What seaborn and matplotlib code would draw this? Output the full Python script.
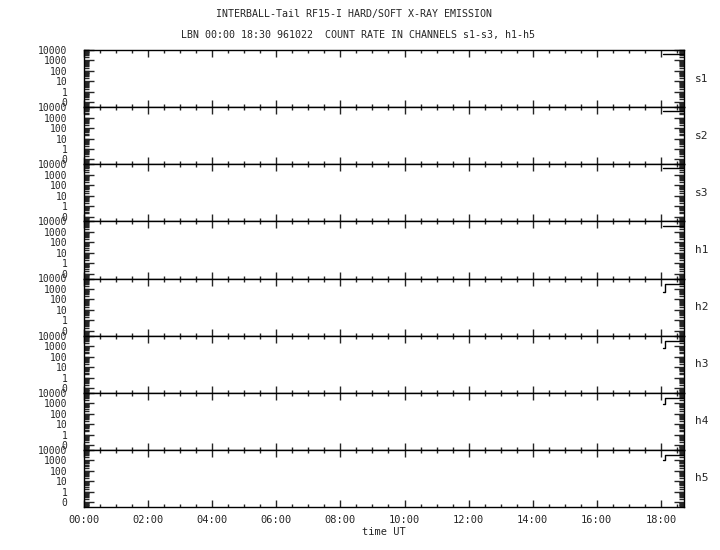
import numpy as np
import matplotlib
matplotlib.use("Agg")
import matplotlib.pyplot as plt
import matplotlib.ticker as mticker
import seaborn as sns

# channel names, top to bottom
channels = ["s1", "s2", "s3", "h1", "h2", "h3", "h4", "h5"]

# times in hours UT (step data only near the end of the interval)
times = [18.06, 18.12, 18.72]

# count rates per channel
s1 = [4000, 4000, 4000]
s2 = [4000, 4000, 4000]
s3 = [4000, 4000, 4000]
h1 = [4000, 4000, 4000]
h2 = [500, 2800, 2800]
h3 = [600, 2800, 2800]
h4 = [800, 3000, 3000]
h5 = [1000, 3000, 3000]
series = [s1, s2, s3, h1, h2, h3, h4, h5]

ytick_vals = [0.1, 1, 10, 100, 1000, 10000]
ytick_labels = ["0", "1", "10", "100", "1000", "10000"]
xtick_vals = [0, 2, 4, 6, 8, 10, 12, 14, 16, 18]
xtick_labels = ["00:00", "02:00", "04:00", "06:00", "08:00", "10:00",
                "12:00", "14:00", "16:00", "18:00"]

title1 = "INTERBALL-Tail RF15-I HARD/SOFT X-RAY EMISSION"
title2 = "LBN 00:00 18:30 961022  COUNT RATE IN CHANNELS s1-s3, h1-h5"

sns.set_style("white")
plt.rcParams["font.family"] = ["DejaVu Sans Mono"]

fig, axes = plt.subplots(len(channels), 1, figsize=(7.2, 5.5), dpi=100, sharex=True)
fig.subplots_adjust(left=84 / 720, right=684 / 720, top=1 - 50 / 550,
                    bottom=1 - 507 / 550, hspace=0)

for ax, name, vals in zip(axes, channels, series):
    sns.lineplot(x=times, y=vals, ax=ax, color="black", lw=1,
                 drawstyle="steps-post", estimator=None)
    ax.set_yscale("log")
    ax.set_ylim(0.035, 10000)
    ax.set_xlim(0, 18.72)
    ax.set_yticks(ytick_vals)
    ax.set_yticklabels(ytick_labels)
    ax.yaxis.set_minor_locator(mticker.LogLocator(base=10, subs=np.arange(2, 10), numticks=20))
    ax.yaxis.set_minor_formatter(mticker.NullFormatter())
    ax.set_xticks(xtick_vals)
    ax.xaxis.set_minor_locator(mticker.MultipleLocator(0.5))
    ax.tick_params(axis="y", which="major", direction="in", length=7, width=1,
                   left=True, right=True, labelsize=7, pad=12)
    ax.tick_params(axis="y", which="minor", direction="in", length=3.5, width=1,
                   left=True, right=True)
    ax.tick_params(axis="x", which="major", direction="in", length=5, width=1,
                   top=True, bottom=True, labelsize=7.5, pad=6)
    ax.tick_params(axis="x", which="minor", direction="in", length=2.5, width=1,
                   top=True, bottom=True)
    for sp in ax.spines.values():
        sp.set_color("black")
        sp.set_linewidth(1)
    ax.text(1.018, 0.5, name, transform=ax.transAxes, ha="left", va="center", fontsize=8)
    ax.set_ylabel("")

axes[-1].set_xticklabels(xtick_labels)
axes[-1].set_xlabel("time UT", fontsize=7.5, labelpad=1)

fig.text(0.492, 1 - 14 / 550, title1, ha="center", va="center", fontsize=7.2)
fig.text(0.497, 1 - 35 / 550, title2, ha="center", va="center", fontsize=7.2)

fig.savefig("out.png", dpi=100, facecolor="white")
